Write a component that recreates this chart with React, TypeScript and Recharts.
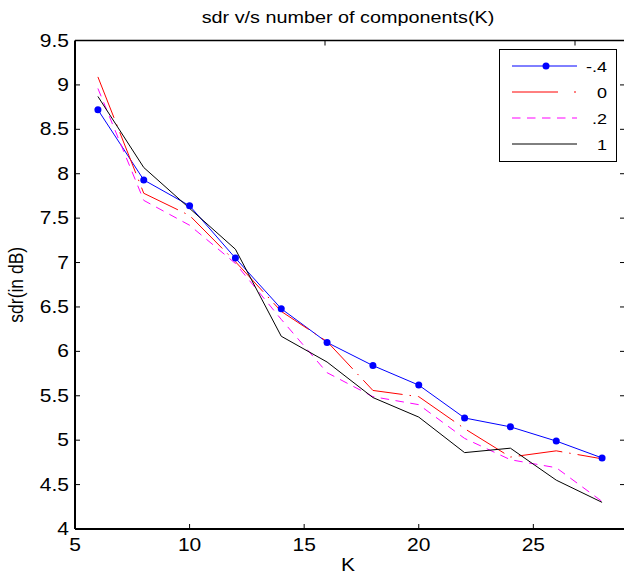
import React from 'react';
import { LineChart, Line, XAxis, YAxis, Label, Legend } from 'recharts';

const kValues = [6, 8, 10, 12, 14, 16, 18, 20, 22, 24, 26, 28];
const sdrNeg04 = [8.72, 7.93, 7.64, 7.05, 6.48, 6.1, 5.84, 5.62, 5.25, 5.15, 4.99, 4.8];
const sdr0 = [9.09, 7.78, 7.53, 7.01, 6.45, 6.11, 5.56, 5.49, 5.13, 4.81, 4.88, 4.79];
const sdr02 = [8.96, 7.7, 7.42, 6.99, 6.36, 5.76, 5.49, 5.4, 5.02, 4.78, 4.69, 4.31];
const sdr1 = [8.87, 8.07, 7.61, 7.15, 6.17, 5.88, 5.48, 5.26, 4.86, 4.91, 4.55, 4.3];

const xTicks = [5, 10, 15, 20, 25];
const yTicks = [4, 4.5, 5, 5.5, 6, 6.5, 7, 7.5, 8, 8.5, 9, 9.5];
const seriesNames = ['-.4', '0', '.2', '1'];

const titleText = 'sdr v/s number of components(K)';
const xLabelText = 'K';
const yLabelText = 'sdr(in dB)';

const data = kValues.map((k, i) => ({
  k,
  a: sdrNeg04[i],
  b: sdr0[i],
  c: sdr02[i],
  d: sdr1[i],
}));

const FONT = '"Liberation Sans", Arial, Helvetica, sans-serif';
const SX = 1.2;

const series = [
  { key: 'a', name: seriesNames[0], color: '#0000ff', dash: undefined as string | undefined, legendDash: undefined as string | undefined, marker: true },
  { key: 'b', name: seriesNames[1], color: '#ff0000', dash: '44 7 1.5 7', legendDash: '46 16 2 100', marker: false },
  { key: 'c', name: seriesNames[2], color: '#ff00ff', dash: '8.5 6.5', legendDash: '8.5 6.5', marker: false },
  { key: 'd', name: seriesNames[3], color: '#000000', dash: undefined, legendDash: undefined, marker: false },
];

function XTick(props: any) {
  const { x, y, payload } = props;
  return (
    <text
      transform={`translate(${x},${y + 22}) scale(${SX},1)`}
      textAnchor="middle"
      fontFamily={FONT}
      fontSize={17.5}
      fill="#000"
    >
      {String(payload.value)}
    </text>
  );
}

function YTick(props: any) {
  const { x, y, payload } = props;
  return (
    <text
      transform={`translate(${x - 6},${y + 6}) scale(${SX},1)`}
      textAnchor="end"
      fontFamily={FONT}
      fontSize={17.5}
      fill="#000"
    >
      {String(payload.value)}
    </text>
  );
}

function EmptyTick() {
  return <g />;
}

function TitleContent(props: any) {
  const vb = props.viewBox;
  const cx = vb && vb.width ? vb.x + vb.width / 2 - 2 : 348;
  return (
    <text
      transform={`translate(${cx},23) scale(${SX},1)`}
      textAnchor="middle"
      fontFamily={FONT}
      fontSize={16.5}
      fill="#000"
    >
      {titleText}
    </text>
  );
}

function XLabelContent(props: any) {
  const vb = props.viewBox;
  const cx = vb && vb.width ? vb.x + vb.width / 2 - 2 : 348;
  return (
    <text
      transform={`translate(${cx},570.5) scale(${SX},1)`}
      textAnchor="middle"
      fontFamily={FONT}
      fontSize={17.5}
      fill="#000"
    >
      {xLabelText}
    </text>
  );
}

function YLabelContent(props: any) {
  const vb = props.viewBox;
  const cy = vb && vb.height ? vb.y + vb.height / 2 : 285;
  return (
    <text
      transform={`translate(23,${cy}) scale(${SX},1) rotate(-90)`}
      textAnchor="middle"
      fontFamily={FONT}
      fontSize={17.5}
      fill="#000"
    >
      {yLabelText}
    </text>
  );
}

function LegendBox() {
  return (
    <svg width={118} height={113} style={{ display: 'block' }}>
      <rect x={0.5} y={0.5} width={117} height={112} fill="#fff" stroke="#000" strokeWidth={1} />
      {series.map((s, i) => {
        const ry = 17 + i * 26;
        return (
          <g key={s.key}>
            <line
              x1={13}
              x2={78}
              y1={ry}
              y2={ry}
              stroke={s.color}
              strokeWidth={1}
              strokeDasharray={s.legendDash}
            />
            {s.marker && <circle cx={47} cy={ry} r={3.5} fill={s.color} />}
            <text
              transform={`translate(108,${ry + 5.5}) scale(${SX},1)`}
              textAnchor="end"
              fontFamily={FONT}
              fontSize={15}
              fill="#000"
            >
              {s.name}
            </text>
          </g>
        );
      })}
    </svg>
  );
}

export default function App() {
  return (
    <div
      style={{
        position: 'fixed',
        left: 0,
        top: 0,
        width: 624,
        height: 575,
        overflow: 'hidden',
        background: '#fff',
      }}
    >
      <LineChart
        width={630}
        height={575}
        data={data}
        margin={{ top: 38.5, right: 3, bottom: 0, left: 0 }}
      >
        <XAxis
          dataKey="k"
          type="number"
          domain={[5, 29]}
          ticks={xTicks}
          interval={0}
          allowDataOverflow
          height={46}
          tickSize={-5}
          tickMargin={5}
          tick={XTick}
          axisLine={{ stroke: '#000', strokeWidth: 2 }}
          tickLine={{ stroke: '#000', strokeWidth: 1 }}
        >
          <Label content={XLabelContent} />
        </XAxis>
        <XAxis
          xAxisId="top"
          orientation="top"
          type="number"
          domain={[5, 29]}
          ticks={xTicks}
          interval={0}
          allowDataOverflow
          height={2}
          tickSize={-5}
          tickMargin={0}
          tick={EmptyTick}
          axisLine={{ stroke: '#000', strokeWidth: 1.3 }}
          tickLine={{ stroke: '#000', strokeWidth: 1 }}
        >
          <Label content={TitleContent} />
        </XAxis>
        <YAxis
          type="number"
          domain={[4, 9.5]}
          ticks={yTicks}
          interval={0}
          allowDataOverflow
          width={75}
          tickSize={-5}
          tickMargin={5}
          tick={YTick}
          axisLine={{ stroke: '#000', strokeWidth: 2 }}
          tickLine={{ stroke: '#000', strokeWidth: 1 }}
        >
          <Label content={YLabelContent} />
        </YAxis>
        <YAxis
          yAxisId="right"
          orientation="right"
          type="number"
          domain={[4, 9.5]}
          ticks={yTicks}
          interval={0}
          allowDataOverflow
          width={2}
          tickSize={-5}
          tickMargin={0}
          tick={EmptyTick}
          axisLine={{ stroke: '#000', strokeWidth: 1.3 }}
          tickLine={{ stroke: '#000', strokeWidth: 1 }}
        />
        {series.map((s) => (
          <Line
            key={s.key}
            dataKey={s.key}
            name={s.name}
            type="linear"
            stroke={s.color}
            strokeWidth={1}
            strokeDasharray={s.dash}
            dot={s.marker ? { r: 3.5, fill: s.color, stroke: s.color, strokeWidth: 0 } : false}
            activeDot={false}
            isAnimationActive={false}
          />
        ))}
        <Legend
          layout="vertical"
          align="center"
          verticalAlign="middle"
          wrapperStyle={{ position: 'absolute', left: 499, top: 49, width: 118, height: 113 }}
          content={LegendBox}
        />
      </LineChart>
    </div>
  );
}
